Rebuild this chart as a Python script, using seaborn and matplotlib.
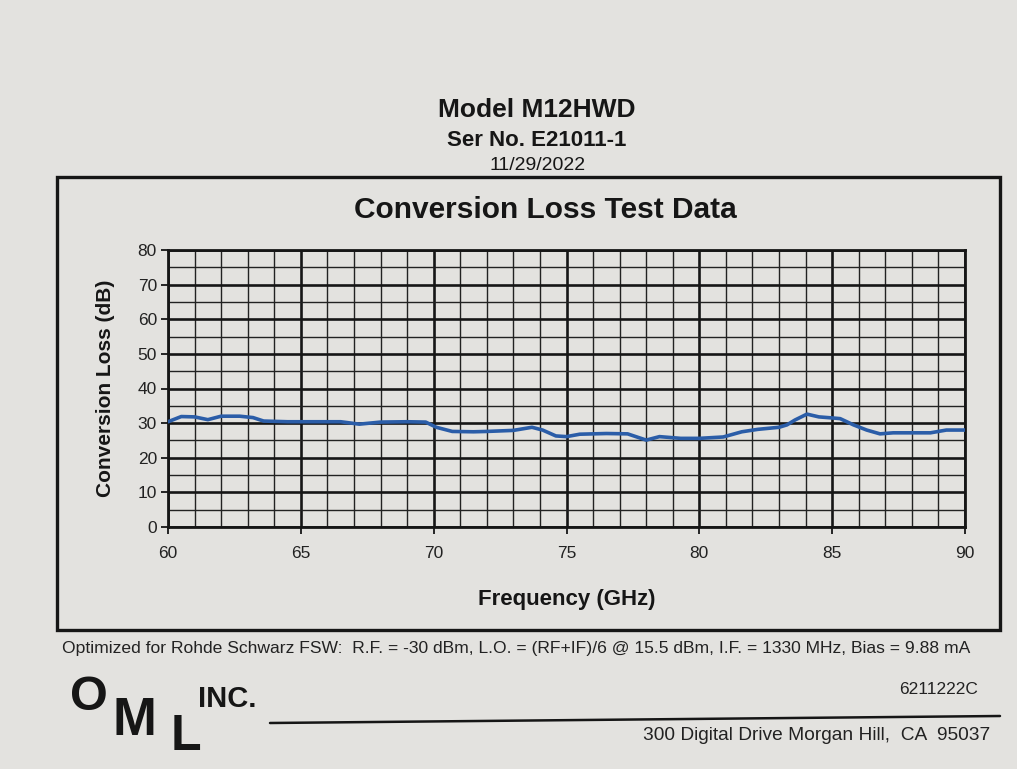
import matplotlib
matplotlib.use("Agg")
import matplotlib.pyplot as plt
import seaborn as sns
import pandas as pd
from matplotlib.ticker import MultipleLocator
from matplotlib.patches import Rectangle
from matplotlib.lines import Line2D

# values
freq_ghz = [60.0, 60.5, 61.0, 61.5, 62.0, 62.7, 63.2, 63.6, 64.5, 65.5, 66.5, 67.2,
            68.0, 69.0, 69.7, 70.1, 70.7, 71.5, 72.0, 73.0, 73.7, 74.1, 74.6, 75.0,
            75.5, 76.5, 77.3, 78.0, 78.5, 79.3, 80.0, 80.9, 81.6, 82.2, 83.0, 83.3,
            83.6, 84.05, 84.5, 85.0, 85.3, 85.8, 86.3, 86.8, 87.3, 88.0, 88.7, 89.3, 90.0]
loss_db = [30.4, 31.9, 31.8, 31.0, 32.0, 32.0, 31.6, 30.6, 30.4, 30.4, 30.4, 29.7,
           30.3, 30.4, 30.3, 28.8, 27.6, 27.5, 27.6, 27.9, 28.8, 28.0, 26.3, 26.1,
           26.8, 27.0, 26.9, 25.1, 26.1, 25.6, 25.6, 26.0, 27.5, 28.2, 28.8, 29.5,
           30.9, 32.6, 31.8, 31.5, 31.3, 29.5, 28.0, 26.9, 27.2, 27.2, 27.2, 28.0, 28.0]

title_lines = ["Model M12HWD", "Ser No. E21011-1", "11/29/2022"]
chart_title = "Conversion Loss Test Data"
footer = ("Optimized for Rohde Schwarz FSW:  R.F. = -30 dBm, L.O. = (RF+IF)/6 @ 15.5 dBm, "
          "I.F. = 1330 MHz, Bias = 9.88 mA")
part_no = "6211222C"
address = "300 Digital Drive Morgan Hill,  CA  95037"

df = pd.DataFrame({"Frequency (GHz)": freq_ghz, "Conversion Loss (dB)": loss_db})

sns.set_theme(style="white")
plt.rcParams["font.family"] = ["Liberation Sans", "DejaVu Sans"]

paper = "#e3e2df"
ink = "#161616"
fig = plt.figure(figsize=(10.17, 7.69), dpi=100, facecolor=paper)

W, H = 1017, 769
def fx(px):
    return px / W
def fy(py):
    return 1 - py / H

# chart frame
fig.patches.append(Rectangle((fx(57), fy(630)), fx(1000) - fx(57), fy(177) - fy(630),
                             transform=fig.transFigure, fill=False, lw=2.4, ec=ink))

ax = fig.add_axes([fx(168), fy(527), fx(965) - fx(168), fy(250) - fy(527)])
ax.set_facecolor(paper)

sns.lineplot(data=df, x="Frequency (GHz)", y="Conversion Loss (dB)", ax=ax,
             color="#2b5da8", lw=2.6, zorder=5)

ax.set_xlim(60, 90)
ax.set_ylim(0, 80)
ax.xaxis.set_major_locator(MultipleLocator(5))
ax.xaxis.set_minor_locator(MultipleLocator(1))
ax.yaxis.set_major_locator(MultipleLocator(10))
ax.yaxis.set_minor_locator(MultipleLocator(5))
ax.grid(which="major", color=ink, lw=1.9)
ax.grid(which="minor", color="#222222", lw=1.0)
ax.set_axisbelow(True)
for s in ax.spines.values():
    s.set_color(ink)
    s.set_linewidth(2.0)
ax.tick_params(axis="both", which="major", direction="out", length=5, width=1.3,
               color=ink, labelsize=12.5, labelcolor="#222222", pad=3)
ax.tick_params(axis="both", which="minor", length=0)
ax.tick_params(axis="y", left=True)
ax.tick_params(axis="x", bottom=True, pad=9)

ax.set_xlabel("Frequency (GHz)", fontsize=16, fontweight="bold", color=ink, labelpad=20)
ax.set_ylabel("Conversion Loss (dB)", fontsize=15, fontweight="bold", color=ink, labelpad=16)

# page headings
fig.text(fx(537), fy(110), title_lines[0], ha="center", va="center", fontsize=19,
         fontweight="bold", color=ink)
fig.text(fx(537), fy(141), title_lines[1], ha="center", va="center", fontsize=16,
         fontweight="bold", color=ink)
fig.text(fx(538), fy(166), title_lines[2], ha="center", va="center", fontsize=14,
         color=ink)
fig.text(fx(545), fy(210), chart_title, ha="center", va="center", fontsize=21.5,
         fontweight="bold", color=ink)

# footer
fig.text(fx(62), fy(648), footer, ha="left", va="center", fontsize=12.6, color="#222222")
fig.text(fx(978), fy(690), part_no, ha="right", va="center", fontsize=12.5, color="#222222")
fig.text(fx(990), fy(736), address, ha="right", va="center", fontsize=13.8, color="#222222")

# OML logo
fig.text(fx(70), fy(698), "O", ha="left", va="center", fontsize=35, fontweight="bold", color=ink)
fig.text(fx(113), fy(721), "M", ha="left", va="center", fontsize=38, fontweight="bold", color=ink)
fig.text(fx(171), fy(737), "L", ha="left", va="center", fontsize=36, fontweight="bold", color=ink)
fig.text(fx(198), fy(699), "INC.", ha="left", va="center", fontsize=21, fontweight="bold", color=ink)
fig.lines.append(Line2D([fx(270), fx(1000)], [fy(723), fy(716)], transform=fig.transFigure,
                        color=ink, lw=1.8))

fig.savefig("out.png", dpi=100, facecolor=paper)
